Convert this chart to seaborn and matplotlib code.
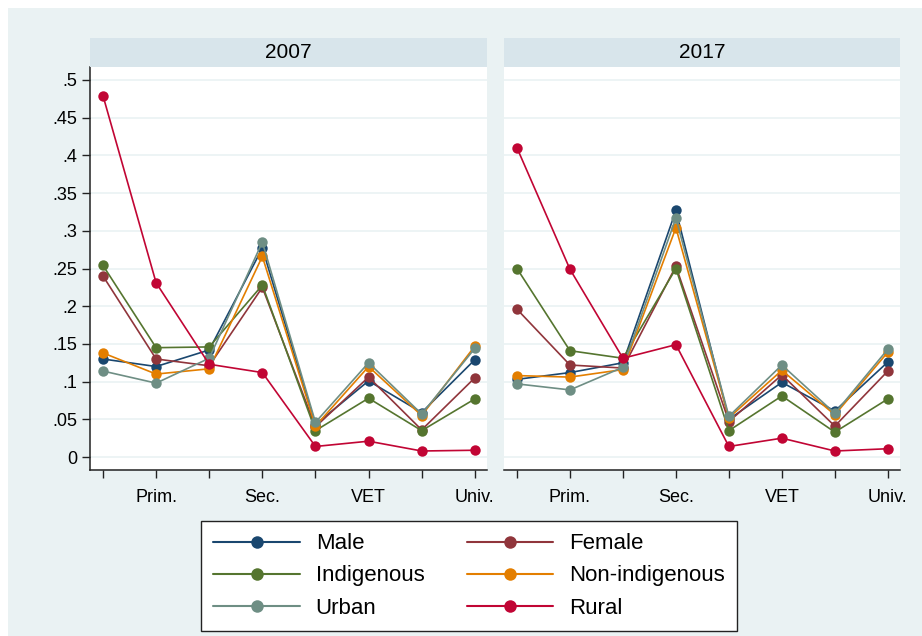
import matplotlib
matplotlib.use('Agg')
import matplotlib.pyplot as plt
from matplotlib.lines import Line2D
from matplotlib.patches import Rectangle
import numpy as np
import pandas as pd
import seaborn as sns

# Data
positions = [1, 2, 3, 4, 5, 6, 7, 8]
xtick_labels = ["", "Prim.", "", "Sec.", "", "VET", "", "Univ."]
years = ["2007", "2017"]
groups = ["Male", "Female", "Indigenous", "Non-indigenous", "Urban", "Rural"]

male_07 = [0.130, 0.120, 0.142, 0.277, 0.043, 0.101, 0.059, 0.129]
female_07 = [0.240, 0.130, 0.121, 0.225, 0.040, 0.106, 0.036, 0.105]
indig_07 = [0.254, 0.145, 0.146, 0.228, 0.035, 0.078, 0.035, 0.077]
nonind_07 = [0.138, 0.110, 0.117, 0.266, 0.041, 0.120, 0.055, 0.147]
urban_07 = [0.114, 0.098, 0.131, 0.285, 0.046, 0.125, 0.057, 0.144]
rural_07 = [0.479, 0.231, 0.123, 0.112, 0.014, 0.021, 0.008, 0.009]

male_17 = [0.103, 0.112, 0.125, 0.327, 0.050, 0.099, 0.061, 0.126]
female_17 = [0.196, 0.122, 0.118, 0.253, 0.047, 0.109, 0.041, 0.114]
indig_17 = [0.250, 0.141, 0.131, 0.250, 0.035, 0.081, 0.033, 0.077]
nonind_17 = [0.108, 0.106, 0.116, 0.304, 0.052, 0.115, 0.056, 0.139]
urban_17 = [0.097, 0.089, 0.119, 0.317, 0.054, 0.122, 0.058, 0.143]
rural_17 = [0.410, 0.249, 0.131, 0.149, 0.014, 0.025, 0.008, 0.011]

series = {
    "2007": [male_07, female_07, indig_07, nonind_07, urban_07, rural_07],
    "2017": [male_17, female_17, indig_17, nonind_17, urban_17, rural_17],
}

# Stata s2color palette
colors = ["#1a476f", "#90353b", "#55752f", "#e37e00", "#6e8e84", "#c10534"]
palette = dict(zip(groups, colors))
bg = "#eaf2f3"
strip_color = "#d8e5eb"

rows = []
for yr in years:
    for g, vals in zip(groups, series[yr]):
        for p, v in zip(positions, vals):
            rows.append({"year": yr, "group": g, "pos": p, "value": v})
df = pd.DataFrame(rows)

sns.set_style("white")
plt.rcParams['font.family'] = ['Liberation Sans', 'DejaVu Sans']
plt.rcParams['text.color'] = 'black'
plt.rcParams['xtick.color'] = 'black'
plt.rcParams['ytick.color'] = 'black'

W, H = 922, 636
fig = plt.figure(figsize=(W / 100, H / 100), dpi=100, facecolor="white")
fig.patches.append(Rectangle((8 / W, 0), 1, (H - 8) / H, transform=fig.transFigure,
                             facecolor=bg, edgecolor="none", zorder=-10))


def px_box(x0, y0, x1, y1):
    return [x0 / W, (H - y1) / H, (x1 - x0) / W, (y1 - y0) / H]


panel_x = [(90, 487), (504, 900)]
yticks = np.arange(0, 0.51, 0.05)
ylabels = ["0"] + [("%g" % v).lstrip("0") for v in yticks[1:]]

for i, yr in enumerate(years):
    x0, x1 = panel_x[i]
    ax = fig.add_axes(px_box(x0, 67, x1, 470))
    ax.set_facecolor("white")
    sub = df[df["year"] == yr]
    sns.lineplot(data=sub, x="pos", y="value", hue="group", hue_order=groups,
                 palette=palette, marker="o", markersize=7.5, markeredgewidth=0,
                 linewidth=1.2, estimator=None, sort=False, legend=False, ax=ax)
    ax.set_xlim(0.755, 8.23)
    ax.set_ylim(-0.0172, 0.5172)
    ax.set_yticks(yticks)
    ax.yaxis.grid(True, color=bg, linewidth=1.2)
    ax.set_axisbelow(True)
    ax.set_xticks(positions)
    ax.set_xticklabels(xtick_labels, fontsize=13)
    ax.tick_params(axis="x", direction="out", length=6, width=1, pad=8,
                   bottom=True, color="#222222")
    ax.set_xlabel("")
    ax.set_ylabel("")
    for s in ["top", "right"]:
        ax.spines[s].set_visible(False)
    ax.spines["bottom"].set_color("#222222")
    ax.spines["bottom"].set_linewidth(1.1)
    if i == 0:
        ax.set_yticklabels(ylabels, fontsize=13)
        ax.tick_params(axis="y", direction="out", length=6, width=1, pad=3,
                       left=True, color="#222222")
        ax.spines["left"].set_color("#222222")
        ax.spines["left"].set_linewidth(1.1)
    else:
        ax.set_yticklabels([])
        ax.tick_params(axis="y", left=False)
        ax.spines["left"].set_visible(False)

    # panel header strip
    sax = fig.add_axes(px_box(x0, 38, x1, 67))
    sax.set_facecolor(strip_color)
    sax.set_xticks([])
    sax.set_yticks([])
    for s in sax.spines.values():
        s.set_visible(False)
    sax.text(0.5, 0.5, yr, ha="center", va="center", fontsize=15,
             transform=sax.transAxes)

# legend, column-wise order so rows read Male/Female, Indigenous/Non-indigenous, Urban/Rural
order = ["Male", "Indigenous", "Urban", "Female", "Non-indigenous", "Rural"]
handles = [Line2D([], [], color=palette[g], marker="o", markersize=9,
                  markeredgewidth=0, linewidth=1.5) for g in order]
leg = fig.legend(handles, order, loc="center", bbox_to_anchor=(469 / W, 1 - 576 / H),
                 ncol=2, fontsize=16, frameon=True, fancybox=False, framealpha=1,
                 handlelength=3.9, handletextpad=0.7, columnspacing=1.9,
                 labelspacing=0.5, borderpad=0.55, borderaxespad=0)
leg.get_frame().set_edgecolor("#222222")
leg.get_frame().set_linewidth(1.0)
leg.get_frame().set_facecolor("white")

fig.savefig("out.png", dpi=100, facecolor=fig.get_facecolor())
